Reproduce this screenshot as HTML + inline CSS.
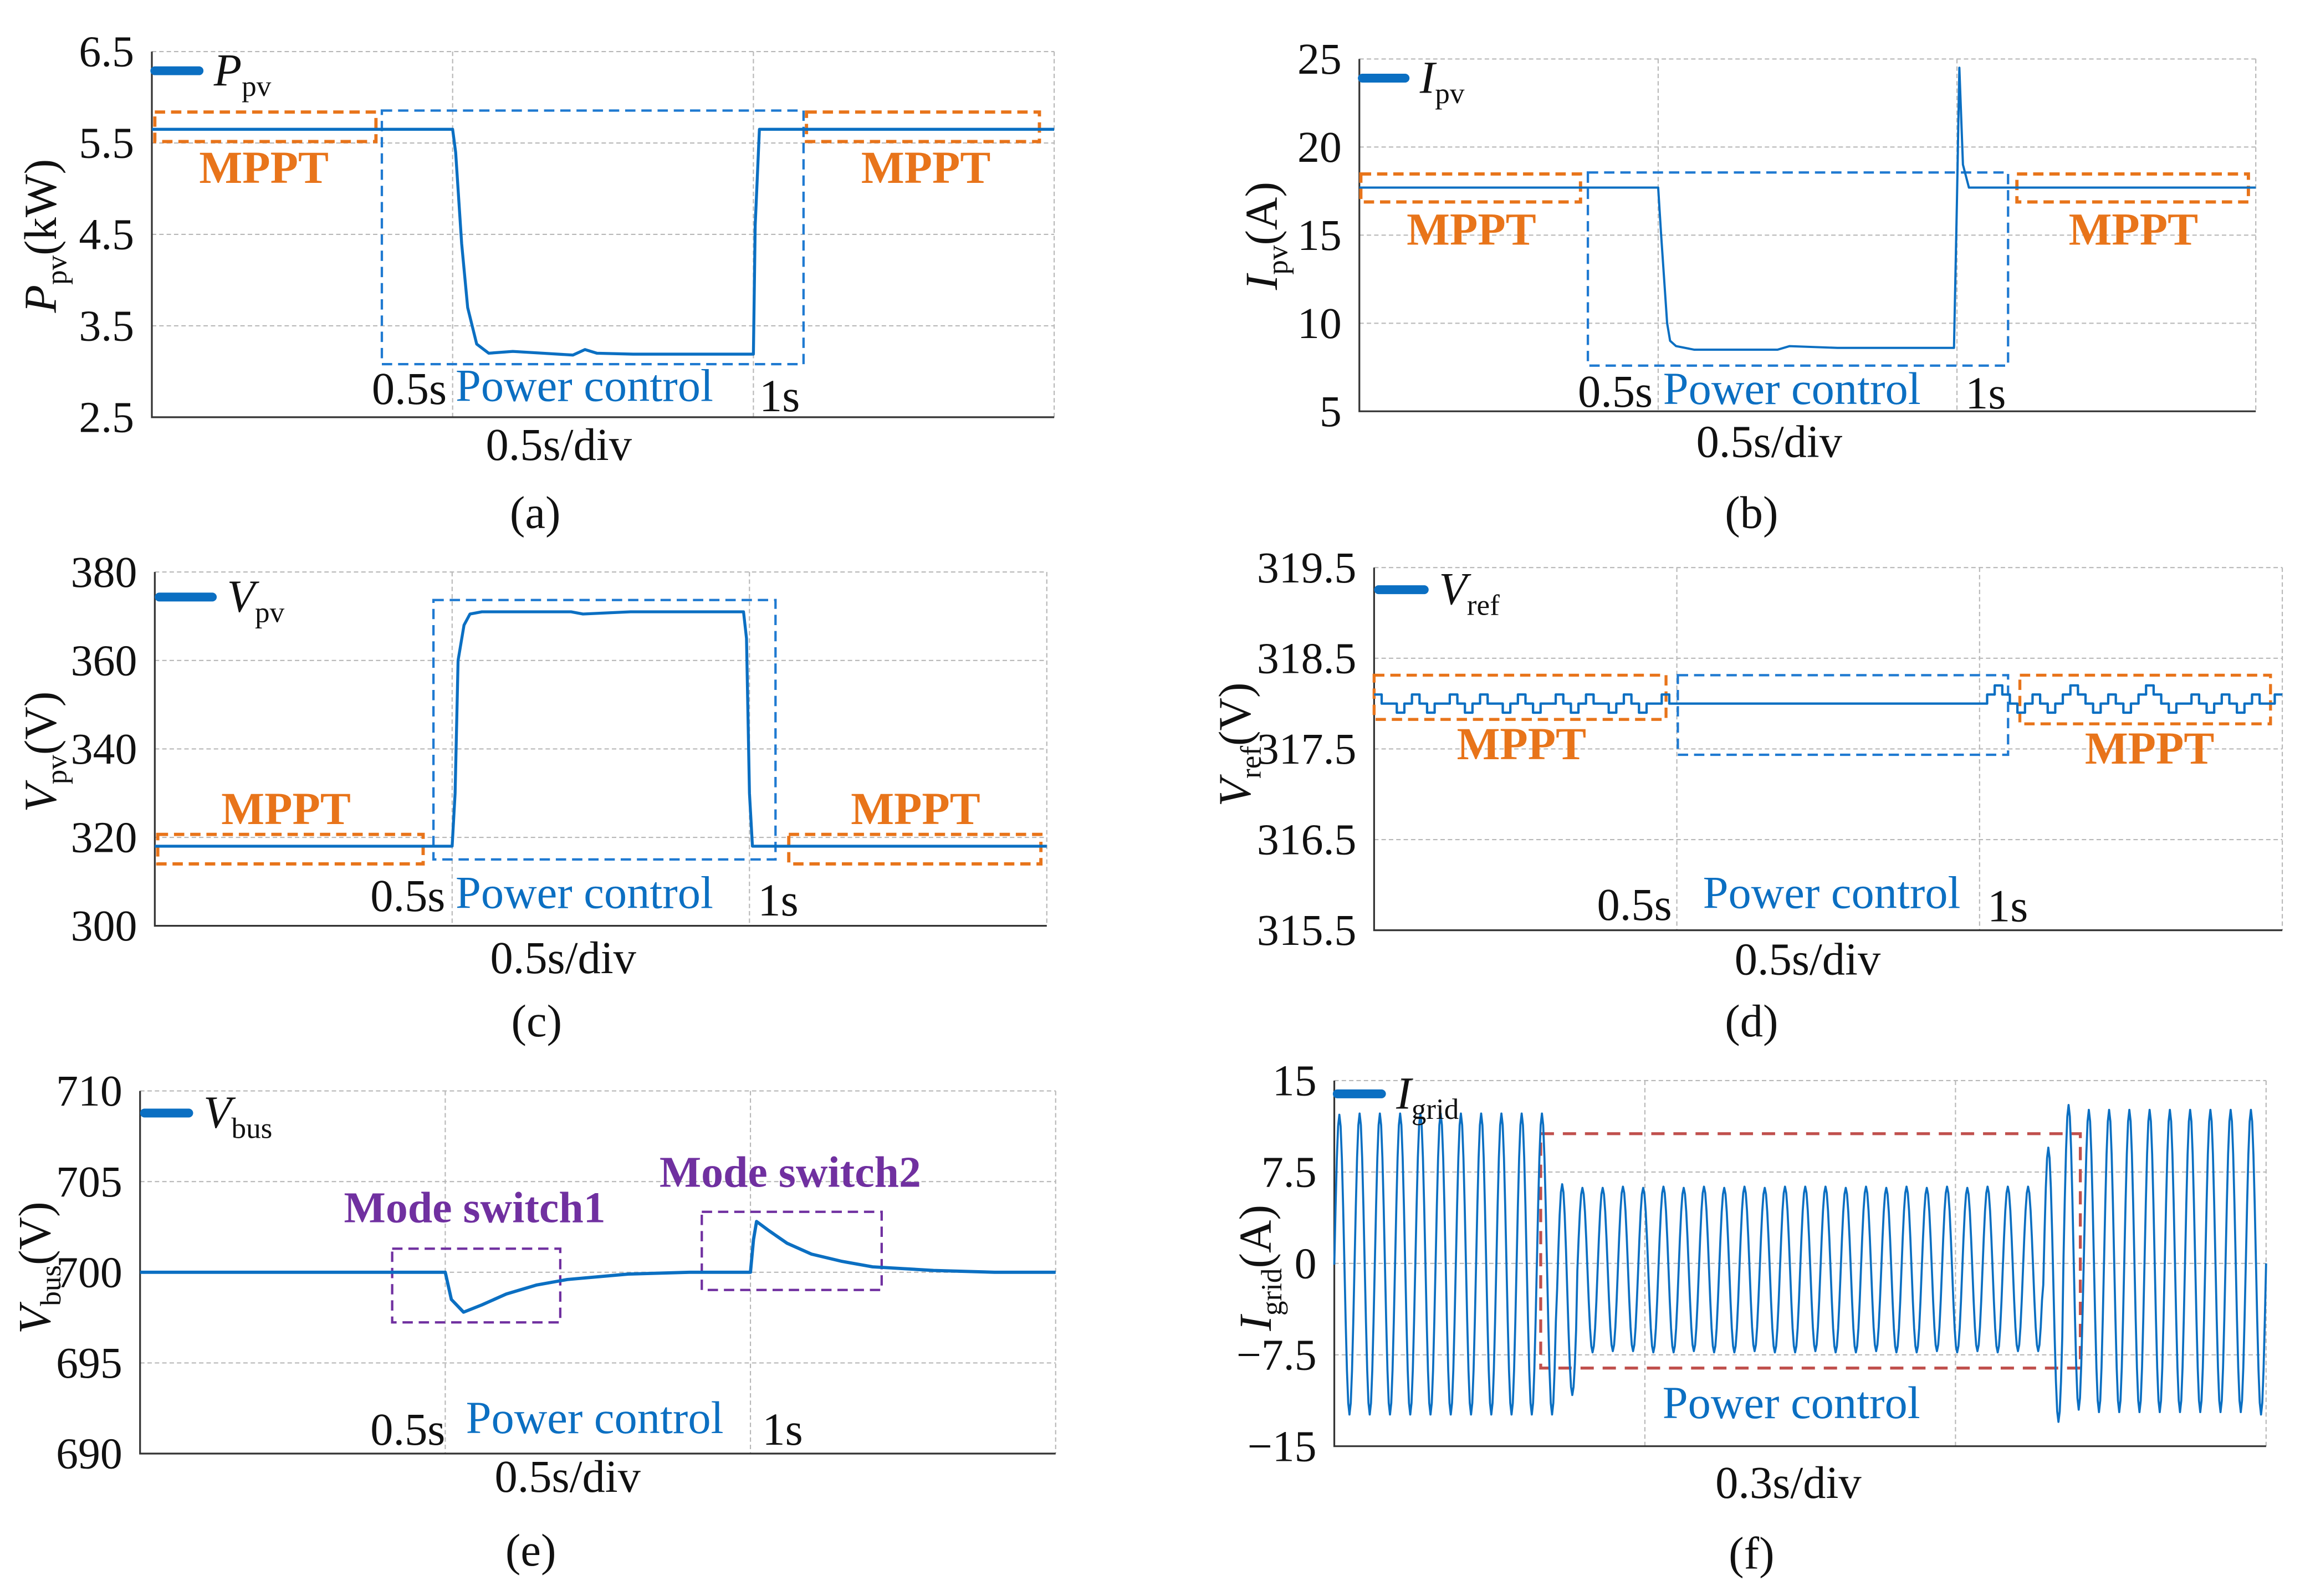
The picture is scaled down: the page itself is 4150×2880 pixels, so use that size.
<!DOCTYPE html>
<html><head><meta charset="utf-8"><style>
html,body{margin:0;padding:0;background:#fff;}
svg{display:block;font-family:"Liberation Serif",serif;}
</style></head><body>
<svg id="fig" width="4150" height="2880" viewBox="0 0 1560 1082.6" xmlns="http://www.w3.org/2000/svg"></svg>
<script>
// ---- data (a) ----
const aT=[0,0.5,0.505,0.515,0.525,0.54,0.56,0.6,0.65,0.7,0.72,0.74,0.8,0.9,1.0,1.003,1.01,1.5];
const aV=[5.65,5.65,5.4,4.4,3.7,3.3,3.2,3.22,3.2,3.18,3.24,3.2,3.19,3.19,3.19,4.6,5.65,5.65];
// ---- data (b) ----
const bT=[0,0.5,0.505,0.515,0.52,0.53,0.56,0.6,0.7,0.72,0.8,0.9,0.995,1.0,1.004,1.01,1.02,1.5];
const bV=[17.7,17.7,15,10,9.0,8.7,8.5,8.5,8.5,8.7,8.6,8.6,8.6,17,24.5,19,17.7,17.7];
// ---- data (c) ----
const cT=[0,0.5,0.505,0.51,0.52,0.53,0.55,0.7,0.72,0.8,0.99,0.995,1.0,1.005,1.5];
const cV=[318,318,330,360,368,370.5,371,371,370.5,371,371,365,330,318,318];
// ---- data (d) ----
const dLeft=[318.1,318.0,318.0,317.9,318.0,318.1,318.0,317.9,318.0,318.0,318.1,318.0,317.9,318.0,318.1,318.0,318.0,317.9,318.0,318.1,318.0,317.9,318.0,318.0,318.1,318.0,317.9,318.0,318.1,318.0,318.0,317.9,318.0,318.1,318.0,317.9,318.0,318.0,318.1,318.0];
const dMid=318.0;
const dRight=[318.0,318.1,318.2,318.1,318.0,317.9,318.0,318.1,318.0,317.9,318.0,318.1,318.2,318.1,318.0,317.9,318.0,318.1,318.0,317.9,318.0,318.1,318.2,318.1,318.0,317.9,318.0,318.0,318.1,318.0,317.9,318.0,318.1,318.0,317.9,318.0,318.1,318.0,318.0,318.1];
// ---- data (e) ----
const eT=[0,0.5,0.51,0.53,0.56,0.6,0.65,0.7,0.8,0.9,1.0,1.005,1.01,1.03,1.06,1.1,1.15,1.2,1.3,1.4,1.5];
const eV=[700,700,698.5,697.8,698.2,698.8,699.3,699.6,699.9,700,700,701.8,702.8,702.3,701.6,701,700.6,700.3,700.1,700,700];
// ---- data (f) ----
const fPeaks=[12.2,12.3,12.3,12.3,12.3,12.3,12.3,12.3,12.3,12.3,12.3,6.5,6.2,6.2,6.3,6.2,6.3,6.2,6.3,6.2,6.3,6.2,6.3,6.3,6.3,6.2,6.3,6.2,6.3,6.2,6.3,6.2,6.3,6.3,6.3,9.5,13.0,12.6,12.6,12.6,12.6,12.6,12.6,12.6,12.6,12.6];
const fTroughs=[-12.4,-12.4,-12.4,-12.4,-12.4,-12.4,-12.4,-12.4,-12.4,-12.4,-12.4,-10.8,-7.3,-7.2,-7.2,-7.3,-7.3,-7.2,-7.3,-7.3,-7.2,-7.3,-7.3,-7.2,-7.3,-7.3,-7.2,-7.3,-7.3,-7.2,-7.3,-7.2,-7.3,-7.2,-7.2,-13.0,-12.0,-12.2,-12.2,-12.2,-12.2,-12.2,-12.2,-12.2,-12.2,-12.4];

const svg=document.getElementById('fig');
const NS='http://www.w3.org/2000/svg';
const BLUE='#0b6fc2',ORANGE='#e8741a',PURPLE='#7030a0',RED='#c0504d';
function mk(tag,attrs,parent,txt){const e=document.createElementNS(NS,tag);for(const k in attrs)e.setAttribute(k,attrs[k]);if(txt!==undefined)e.textContent=txt;(parent||svg).appendChild(e);return e;}

function panel(p){
  const g=mk('g',{});
  
  
  const xs=v=>p.L+(v-p.x0)/(p.x1-p.x0)*(p.R-p.L);
  const ys=v=>p.B-(v-p.y0)/(p.y1-p.y0)*(p.B-p.T);
  p.xgrid.forEach(v=>{const l=mk('line',{x1:xs(v),x2:xs(v),y1:p.T,y2:p.B,stroke:'#b8b8b8','stroke-width':0.8,'stroke-dasharray':'3,2'},g);});
  p.yticks.forEach(v=>{const l=mk('line',{x1:p.L,x2:p.R,y1:ys(v),y2:ys(v),stroke:'#b8b8b8','stroke-width':0.8,'stroke-dasharray':'3,2'},g);
    const t=mk('text',{x:p.L-12,y:ys(v)+10,'font-size':30,'text-anchor':'end',fill:'#111'},g,p.ylabels?p.ylabels[p.yticks.indexOf(v)]:String(v));});
  mk('line',{x1:p.R,x2:p.R,y1:p.T,y2:p.B,stroke:'#b8b8b8','stroke-width':0.8,'stroke-dasharray':'3,2'},g);
  const ax=mk('path',{d:`M${p.L},${p.T}V${p.B}H${p.R}`,fill:'none',stroke:'#333','stroke-width':1.2},g);
  
  (p.boxes||[]).forEach(b=>{const r=mk('rect',{x:b[0],y:b[1],width:b[2]-b[0],height:b[3]-b[1],fill:'none',stroke:b[4],'stroke-width':b[5]||1.6,'stroke-dasharray':b[6]||'7,4'},g);});
  const pts=p.pts.map(q=>xs(q[0]).toFixed(2)+','+ys(q[1]).toFixed(2)).join(' ');
  const pl=mk('polyline',{points:pts,fill:'none',stroke:BLUE,'stroke-width':p.sw||2,'stroke-linejoin':'round'},g);
  
  const lg=mk('g',{},g);
  mk('line',{x1:p.leg[0],x2:p.leg[1],y1:p.leg[2],y2:p.leg[2],stroke:BLUE,'stroke-width':6,'stroke-linecap':'round'},lg);
  const lt=mk('text',{x:p.leg[1]+10,y:p.leg[2]+10,'font-size':31,fill:'#111'},lg);
  mk('tspan',{'font-style':'italic'},lt,p.sym);
  mk('tspan',{'font-size':20,dy:7},lt,p.sub);
  const yt=mk('text',{transform:`translate(${p.yt[0]},${p.yt[1]}) rotate(-90)`,'font-size':31,'text-anchor':'middle',fill:'#111'},g);
  
  mk('tspan',{'font-style':'italic'},yt,p.sym);
  mk('tspan',{'font-size':20,dy:7},yt,p.sub);
  mk('tspan',{dy:-7},yt,p.unit);
  p.texts.forEach(t=>{const e=mk('text',{x:t[0],y:t[1],'font-size':t[3]||31,'text-anchor':t[4]||'middle',fill:t[5]||'#111','font-weight':t[6]||'normal'},g,t[2]);});
}
function zipP(T,V){return T.map((t,i)=>[t,V[i]]);}

panel({name:'panel-a',L:103,R:715,T:35,B:283,x0:0,x1:1.5,y0:2.5,y1:6.5,xgrid:[0.5,1],yticks:[2.5,3.5,4.5,5.5,6.5],
 ylabels:['2.5','3.5','4.5','5.5','6.5'],pts:zipP(aT,aV),leg:[105,135,48],sym:'P',sub:'pv',unit:'(kW)',yt:[38,160],
 boxes:[[105,76,255,96,ORANGE,2.2,'7,4','mppt-box-left'],[259,75,545,247,'#1f7ad1',1.6,'7,4','power-control-box'],[547,76,705,96,ORANGE,2.2,'7,4','mppt-box-right']],
 texts:[[179,124,'MPPT',31,'middle',ORANGE,'bold','mppt-label'],[628,124,'MPPT',31,'middle',ORANGE,'bold','mppt-label'],[303,274,'0.5s',31,'end'],[309,272,'Power control',31,'start',BLUE,'normal','power-control-label'],[515,279,'1s',31,'start'],[379,312,'0.5s/div',31,'middle','#111','normal','x-axis-title'],[363,358,'(a)',31,'middle','#111','normal','panel-caption']]});

panel({name:'panel-b',L:922,R:1530,T:40,B:279,x0:0,x1:1.5,y0:5,y1:25,xgrid:[0.5,1],yticks:[5,10,15,20,25],
 pts:zipP(bT,bV),sw:1.5,leg:[924,953,53],sym:'I',sub:'pv',unit:'(A)',yt:[866,160],
 boxes:[[923,118,1072,137,ORANGE,2.2,'7,4','mppt-box-left'],[1077,117,1362,248,'#1f7ad1',1.6,'7,4','power-control-box'],[1368,118,1525,137,ORANGE,2.2,'7,4','mppt-box-right']],
 texts:[[998,166,'MPPT',31,'middle',ORANGE,'bold','mppt-label'],[1447,166,'MPPT',31,'middle',ORANGE,'bold','mppt-label'],[1121,276,'0.5s',31,'end'],[1128,274,'Power control',31,'start',BLUE,'normal','power-control-label'],[1333,277,'1s',31,'start'],[1200,310,'0.5s/div',31,'middle','#111','normal','x-axis-title'],[1188,358,'(b)',31,'middle','#111','normal','panel-caption']]});

panel({name:'panel-c',L:105,R:710,T:388,B:628,x0:0,x1:1.5,y0:300,y1:380,xgrid:[0.5,1],yticks:[300,320,340,360,380],
 pts:zipP(cT,cV),leg:[108,144,405],sym:'V',sub:'pv',unit:'(V)',yt:[38,510],
 boxes:[[107,566,287,586,ORANGE,2.2,'7,4','mppt-box-left'],[294,407,526,583,'#1f7ad1',1.6,'7,4','power-control-box'],[535,566,706,586,ORANGE,2.2,'7,4','mppt-box-right']],
 texts:[[194,559,'MPPT',31,'middle',ORANGE,'bold','mppt-label'],[621,559,'MPPT',31,'middle',ORANGE,'bold','mppt-label'],[302,618,'0.5s',31,'end'],[309,616,'Power control',31,'start',BLUE,'normal','power-control-label'],[514,621,'1s',31,'start'],[382,660,'0.5s/div',31,'middle','#111','normal','x-axis-title'],[364,703,'(c)',31,'middle','#111','normal','panel-caption']]});

(function(){
 const pts=[];const n=dLeft.length,dt=0.5/n;
 dLeft.forEach((v,i)=>{pts.push([i*dt,v]);pts.push([(i+1)*dt,v]);});
 pts.push([0.5,dMid]);pts.push([1.0,dMid]);
 const m=dRight.length,dt2=0.5/m;
 dRight.forEach((v,i)=>{pts.push([1+i*dt2,v]);pts.push([1+(i+1)*dt2,v]);});
 panel({name:'panel-d',L:932,R:1548,T:385,B:631,x0:0,x1:1.5,y0:315.5,y1:319.5,xgrid:[0.5,1],yticks:[315.5,316.5,317.5,318.5,319.5],
 ylabels:['315.5','316.5','317.5','318.5','319.5'],pts:pts,sw:1.6,leg:[935,966,400],sym:'V',sub:'ref',unit:'(V)',yt:[848,505],
 boxes:[[932,458,1130,488,ORANGE,2,'7,4','mppt-box-left'],[1138,458,1362,512,'#1f7ad1',1.6,'7,4','power-control-box'],[1370,458,1540,491,ORANGE,2,'7,4','mppt-box-right']],
 texts:[[1032,515,'MPPT',31,'middle',ORANGE,'bold','mppt-label'],[1458,518,'MPPT',31,'middle',ORANGE,'bold','mppt-label'],[1134,624,'0.5s',31,'end'],[1155,616,'Power control',31,'start',BLUE,'normal','power-control-label'],[1348,625,'1s',31,'start'],[1226,661,'0.5s/div',31,'middle','#111','normal','x-axis-title'],[1188,703,'(d)',31,'middle','#111','normal','panel-caption']]});
})();

panel({name:'panel-e',L:95,R:716,T:740,B:986,x0:0,x1:1.5,y0:690,y1:710,xgrid:[0.5,1],yticks:[690,695,700,705,710],
 pts:zipP(eT,eV),sw:2.2,leg:[98,128,755],sym:'V',sub:'bus',unit:'(V)',yt:[34,860],
 boxes:[[266,847,380,897,PURPLE,1.6,'7,4','mode-switch1-box'],[476,822,598,875,PURPLE,1.6,'7,4','mode-switch2-box']],
 texts:[[322,829,'Mode switch1',30,'middle',PURPLE,'bold','mode-switch1-label'],[536,805,'Mode switch2',30,'middle',PURPLE,'bold','mode-switch2-label'],[302,980,'0.5s',31,'end'],[316,972,'Power control',31,'start',BLUE,'normal','power-control-label'],[517,980,'1s',31,'start'],[385,1012,'0.5s/div',31,'middle','#111','normal','x-axis-title'],[360,1062,'(e)',31,'middle','#111','normal','panel-caption']]});

(function(){
 const pts=[];const n=fPeaks.length,per=3/n,S=16;
 for(let i=0;i<n;i++){const p=fPeaks[i],t=fTroughs[i],mid=(p+t)/2,a=(p-t)/2;
  for(let k=0;k<S;k++){const ph=k/S;pts.push([i*per+ph*per, mid+a*Math.sin(2*Math.PI*ph)]);}}
 pts.push([3,0]);
 panel({name:'panel-f',L:905,R:1537,T:733,B:981,x0:0,x1:3,y0:-15,y1:15,xgrid:[1,2],yticks:[-15,-7.5,0,7.5,15],
 ylabels:['\u221215','\u22127.5','0','7.5','15'],pts:pts,sw:1.4,leg:[907,937,742],sym:'I',sub:'grid',unit:'(A)',yt:[862,860],
 boxes:[[1045,769,1411,928,RED,2,'9,6','power-control-box']],
 texts:[[1215,962,'Power control',31,'middle',BLUE,'normal','power-control-label'],[1213,1016,'0.3s/div',31,'middle','#111','normal','x-axis-title'],[1188,1064,'(f)',31,'middle','#111','normal','panel-caption']]});
})();
</script>
</body></html>
